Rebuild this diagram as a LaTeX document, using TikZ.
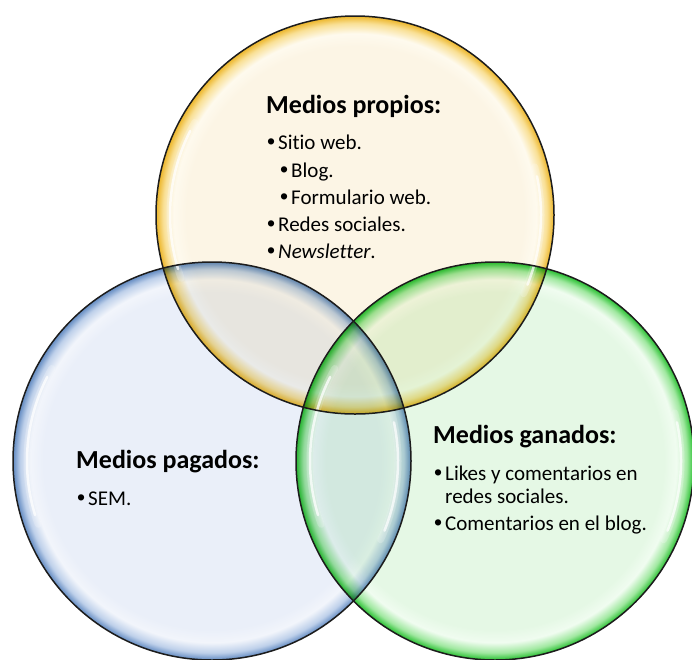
\documentclass[tikz,border=0pt]{standalone}
\usepackage{fontspec}
\setmainfont{Carlito}[Ligatures=NoCommon]
\newfontfamily\bulletfont{Liberation Sans}

% glass-bubble palettes: inner fill, sheen, band, rim
\definecolor{yInner}{RGB}{252,245,229}
\definecolor{ySheen}{RGB}{254,250,238}
\definecolor{yMid}{RGB}{249,224,150}
\definecolor{yRim}{RGB}{238,186,52}
\definecolor{bInner}{RGB}{234,239,249}
\definecolor{bSheen}{RGB}{242,245,251}
\definecolor{bMid}{RGB}{190,208,234}
\definecolor{bRim}{RGB}{108,146,198}
\definecolor{gInner}{RGB}{229,248,229}
\definecolor{gSheen}{RGB}{240,252,240}
\definecolor{gMid}{RGB}{160,232,160}
\definecolor{gRim}{RGB}{52,196,60}
\definecolor{edge}{RGB}{28,28,28}

% the circle's radius maps to 25bp of the shading
\pgfdeclareradialshading{glassYellow}{\pgfpoint{0bp}{0bp}}{color(0bp)=(yInner); color(21.2bp)=(yInner); color(22.8bp)=(ySheen); color(24.1bp)=(yMid); color(24.9bp)=(yRim); color(50bp)=(yRim)}
\pgfdeclareradialshading{glassBlue}{\pgfpoint{0bp}{0bp}}{color(0bp)=(bInner); color(21.2bp)=(bInner); color(22.8bp)=(bSheen); color(24.1bp)=(bMid); color(24.9bp)=(bRim); color(50bp)=(bRim)}
\pgfdeclareradialshading{glassGreen}{\pgfpoint{0bp}{0bp}}{color(0bp)=(gInner); color(21.2bp)=(gInner); color(22.8bp)=(gSheen); color(24.1bp)=(gMid); color(24.9bp)=(gRim); color(50bp)=(gRim)}

\newcommand{\bul}{\makebox[11pt][l]{\bulletfont\fontsize{23}{23}\selectfont •}}

\tikzset{
  heading/.style={anchor=base west, inner sep=0pt, font=\fontsize{26}{30}\selectfont\bfseries},
  item/.style={anchor=base west, inner sep=0pt, font=\fontsize{21}{23}\selectfont},
  rimline/.style={draw=edge, line width=1.5pt},
  glint/.style={draw=white, line cap=round},
}

\begin{document}
\begin{tikzpicture}[x=1pt,y=-1pt]
\useasboundingbox (0,0) rectangle (692,659);
\clip (0,0) rectangle (692,659);

\coordinate (cTop)   at (355,215);
\coordinate (cLeft)  at (212,461);
\coordinate (cRight) at (495,461);

% bubble bodies, multiplied so overlaps show both tints
\begin{scope}[blend mode=multiply]
  \shade[shading=glassYellow] (cTop)   circle[radius=199pt];
  \shade[shading=glassBlue]   (cLeft)  circle[radius=199pt];
  \shade[shading=glassGreen]  (cRight) circle[radius=199pt];
\end{scope}

% soft reflections inside each rim
\foreach \c in {cTop,cLeft,cRight}{
  \begin{scope}[shift={(\c)}]
    \draw[glint, line width=7pt, opacity=0.2] (150:185pt) arc[start angle=150, end angle=200, radius=185pt];
    \draw[glint, line width=2.5pt, opacity=0.75] (153:185pt) arc[start angle=153, end angle=197, radius=185pt];
    \draw[glint, line width=7pt, opacity=0.2] (-25:186pt) arc[start angle=-25, end angle=15, radius=186pt];
    \draw[glint, line width=2.5pt, opacity=0.7] (-22:186pt) arc[start angle=-22, end angle=12, radius=186pt];
  \end{scope}
}

% outlines
\draw[rimline] (cTop)   circle[radius=199pt];
\draw[rimline] (cLeft)  circle[radius=199pt];
\draw[rimline] (cRight) circle[radius=199pt];

% owned media
\node[heading] (tTitle) at (266,113) {Medios propios:};
\node[item] (t1) at (267,149) {\bul Sitio web.};
\node[item] (t2) at (280,177) {\bul Blog.};
\node[item] (t3) at (280,204) {\bul Formulario web.};
\node[item] (t4) at (267,231) {\bul Redes sociales.};
\node[item] (t5) at (267,258) {\bul\textit{Newsletter}.};

% paid media
\node[heading] (bTitle) at (76,468) {Medios pagados:};
\node[item] (b1) at (77,505) {\bul SEM.};

% earned media
\node[heading] (gTitle) at (433,443) {Medios ganados:};
\node[item] (g1) at (434,480) {\bul Likes y comentarios en};
\node[item] (g1b) at (445,503) {redes sociales.};
\node[item] (g2) at (434,530) {\bul Comentarios en el blog.};
\end{tikzpicture}
\end{document}
